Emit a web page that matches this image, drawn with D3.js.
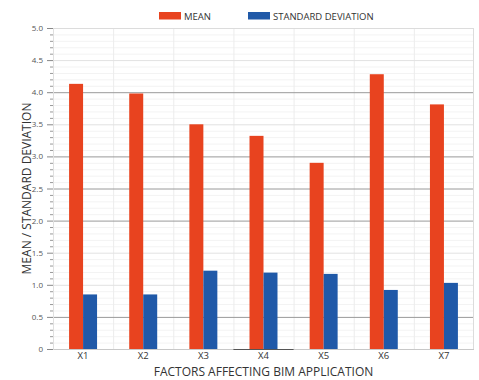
<!DOCTYPE html>
<html><head><meta charset="utf-8">
<script src="https://cdn.jsdelivr.net/npm/d3@7"></script>
<style>body{margin:0;background:#fff}svg{display:block}text{font-family:"Open Sans","DejaVu Sans",sans-serif}</style>
</head><body><svg id="c" width="479" height="380"></svg>
<script>
const categories = ["X1","X2","X3","X4","X5","X6","X7"];
const meanValues = [4.13, 3.98, 3.50, 3.32, 2.90, 4.28, 3.81];
const sdValues = [0.85, 0.85, 1.22, 1.19, 1.17, 0.92, 1.03];
const seriesNames = ["MEAN", "STANDARD DEVIATION"];
const yTicks = [0, 0.5, 1.0, 1.5, 2.0, 2.5, 3.0, 3.5, 4.0, 4.5, 5.0];
const darkGrid = [0.5, 2.0, 2.5, 3.0, 4.0];
const colors = ["#e8431f", "#2059a8"];

const svg = d3.select("#c");
const m = {l:53, r:474, t:28, b:349};
const x = d3.scaleBand().domain(categories).range([m.l, m.r]);
const y = d3.scaleLinear().domain([0,5]).range([m.b, m.t]);
const xs = d3.scaleBand().domain([0,1]).range([0, x.bandwidth()]).paddingInner(0).paddingOuter(1.15);

// minor grid
const minor = d3.range(0, 50).map(i => i/10).filter(v => Math.abs(v*2 - Math.round(v*2)) > 1e-6);
svg.append("g").selectAll("line").data(minor).join("line")
  .attr("x1", m.l).attr("x2", m.r).attr("y1", d=>y(d)+0.5).attr("y2", d=>y(d)+0.5)
  .attr("stroke", "#f3f3f3").attr("stroke-width", 1);
// vertical grid
svg.append("g").selectAll("line").data(categories.slice(1)).join("line")
  .attr("x1", d=>x(d)+0.5).attr("x2", d=>x(d)+0.5).attr("y1", m.t).attr("y2", m.b)
  .attr("stroke", "#ececec");
// major grid
svg.append("g").selectAll("line").data(yTicks.slice(1)).join("line")
  .attr("x1", m.l).attr("x2", m.r).attr("y1", d=>y(d)+0.5).attr("y2", d=>y(d)+0.5)
  .attr("stroke", d => darkGrid.includes(d) ? "#9a9a9a" : "#e2e2e2").attr("stroke-width", 1);
// border
svg.append("rect").attr("x", m.l+0.5).attr("y", m.t+0.5).attr("width", m.r-m.l-1).attr("height", m.b-m.t)
  .attr("fill","none").attr("stroke","#dcdcdc");

// bars
const series = [meanValues, sdValues];
series.forEach((vals, si) => {
  svg.append("g").selectAll("rect").data(vals).join("rect")
    .attr("x", (d,i) => x(categories[i]) + xs(si))
    .attr("width", xs.bandwidth())
    .attr("y", d => y(d)).attr("height", d => y(0) - y(d))
    .attr("fill", colors[si]);
});

// baseline
svg.append("line").attr("x1", m.l).attr("x2", m.r).attr("y1", y(0)+0.5).attr("y2", y(0)+0.5).attr("stroke", "#c8c8c8");
svg.append("line").attr("x1", x("X4")).attr("x2", x("X4")+x.bandwidth()).attr("y1", y(0)+0.5).attr("y2", y(0)+0.5).attr("stroke", "#555").attr("stroke-width", 1.2);

// y axis
const yAxis = d3.axisLeft(y).tickValues(yTicks).tickSize(6).tickPadding(4)
  .tickFormat(d => d === 0 ? "0" : d3.format(".1f")(d));
const ga = svg.append("g").attr("transform", `translate(${m.l},0)`).call(yAxis);
ga.select(".domain").attr("stroke", "#e0e0e0");
ga.selectAll(".tick line").attr("stroke", "#888");
ga.selectAll(".tick text").attr("fill", "#555").style("font-size", "8px");
// minor ticks
svg.append("g").selectAll("line").data(minor).join("line")
  .attr("x1", m.l-3).attr("x2", m.l).attr("y1", d=>y(d)+0.5).attr("y2", d=>y(d)+0.5)
  .attr("stroke", "#999");

// x axis
const xAxis = d3.axisBottom(x).tickSize(0).tickPadding(3);
const gx = svg.append("g").attr("transform", `translate(0,${m.b})`).call(xAxis);
gx.select(".domain").remove();
gx.selectAll(".tick text").attr("fill", "#333").style("font-size", "9.5px");

// titles
svg.append("text").attr("x", (m.l+m.r)/2).attr("y", 376).attr("text-anchor","middle")
  .attr("fill","#333").style("font-size","12px").text("FACTORS AFFECTING BIM APPLICATION");
svg.append("text").attr("transform", `translate(31,${(m.t+m.b)/2}) rotate(-90)`).attr("text-anchor","middle")
  .attr("fill","#333").style("font-size","12px").text("MEAN / STANDARD DEVIATION");

// legend
const legX = [159, 248];
seriesNames.forEach((n, i) => {
  svg.append("rect").attr("x", legX[i]).attr("y", 12).attr("width", 22).attr("height", 7.5).attr("fill", colors[i]);
  svg.append("text").attr("x", legX[i]+25).attr("y", 19.5).attr("fill","#333").style("font-size","9.5px").text(n);
});
</script></body></html>
